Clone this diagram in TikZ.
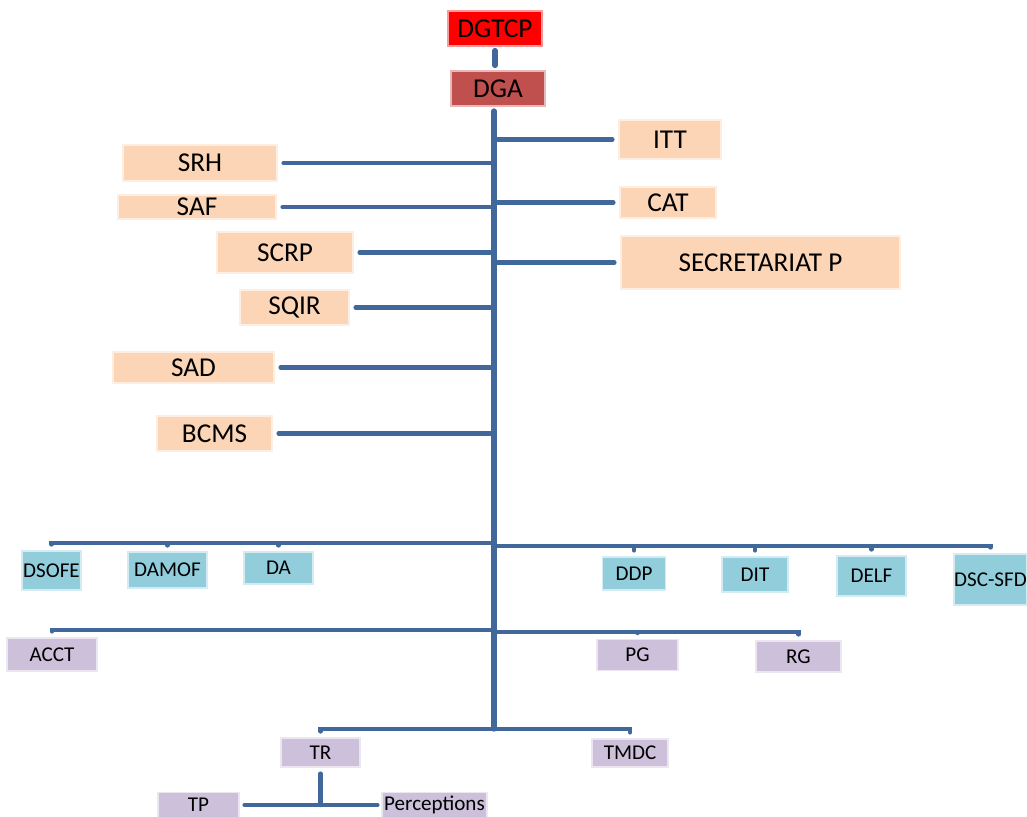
\documentclass[tikz,border=0pt]{standalone}
\usepackage{fontspec}
\setmainfont{Carlito}
\usepackage{tikz}
\definecolor{linkblue}{RGB}{65,104,154}
\definecolor{peach}{RGB}{251,213,181}
\definecolor{sky}{RGB}{146,205,220}
\definecolor{lilac}{RGB}{204,192,218}
\definecolor{brick}{RGB}{192,80,77}

\begin{document}
\begin{tikzpicture}[x=0.02cm,y=-0.02cm,line cap=round,
		unit/.style={rectangle,inner sep=0pt,fill=#1,draw=white!60!#1,line width=0.6pt,font=\fontsize{15.5}{18}\selectfont},
		office/.style={unit=#1,font=\fontsize{12}{14}\selectfont},
		boxsize/.style 2 args={minimum width=#1*0.02cm,minimum height=#2*0.02cm},
		trunk/.style={draw=linkblue,line width=3pt},
		branch/.style={draw=linkblue,line width=2.4pt,shorten >=0.12cm},
		elbow/.style={to path={-| (\tikztotarget)}}]
			\useasboundingbox (0,0) rectangle (1027,816);
			\node[unit=red,boxsize={94}{35}] (dgtcp) at (495,28.5)		{DGTCP};
			\node[unit=brick,boxsize={94}{35}] (dga) at (498,88.5)		{DGA};
			\node[unit=peach,boxsize={102}{39}] (itt) at (670,139.5)		{ITT};
			\node[unit=peach,boxsize={96}{31}] (cat) at (668,202.5)		{CAT};
			\node[unit=peach,boxsize={279}{53}] (secp) at (760.5,262.5)	{SECRETARIAT P};
			\node[unit=peach,boxsize={154}{36}] (srh) at (200,163)		{SRH};
			\node[unit=peach,boxsize={158}{24}] (saf) at (197,207)		{SAF};
			\node[unit=peach,boxsize={136}{41}] (scrp) at (285,252.5)	{SCRP};
			\node[unit=peach,boxsize={109}{35}] (sqir) at (294.5,307.5)	{SQIR};
			\node[unit=peach,boxsize={161}{31}] (sad) at (193.5,367.5)	{SAD};
			\node[unit=peach,boxsize={115}{35}] (bcms) at (214.5,433.5)	{BCMS};
			\node[office=sky,boxsize={59}{39}] (dsofe) at (51.5,570.5)	{DSOFE};
			\node[office=sky,boxsize={79}{36}] (damof) at (167.5,570)	{DAMOF};
			\node[office=sky,boxsize={69}{32}] (da) at (278.5,568)		{DA};
			\node[office=sky,boxsize={63}{33}] (ddp) at (634,573.5)		{DDP};
			\node[office=sky,boxsize={66}{35}] (dit) at (755,574.5)		{DIT};
			\node[office=sky,boxsize={69}{40}] (delf) at (871.5,576)		{DELF};
			\node[office=sky,boxsize={73}{51}] (dscsfd) at (990.5,579.5)	{DSC-SFD};
			\node[office=lilac,boxsize={90}{33}] (acct) at (52,654.5)		{ACCT};
			\node[office=lilac,boxsize={81}{31}] (pg) at (637.5,655)		{PG};
			\node[office=lilac,boxsize={85}{31}] (rg) at (798.5,656.5)		{RG};
			\node[office=lilac,boxsize={79}{29}] (tr) at (320.5,752.5)		{TR};
			\node[office=lilac,boxsize={76}{28}] (tmdc) at (630,753)		{TMDC};
			\node[office=lilac,boxsize={81}{25}] (tp) at (198.5,805)		{TP};
			\node[office=lilac,boxsize={105}{25}] (perc) at (434.5,805)	{Perceptions};
			\coordinate (top) at (494,106);
			\coordinate (b1) at (494,543);
			\coordinate (b2) at (494,546);
			\coordinate (p1) at (494,630);
			\coordinate (p2) at (494,632);
			\coordinate (foot) at (494,729);
			\path[trunk,shorten <=0.08cm,shorten >=0.1cm] (dgtcp.south) edge (dgtcp.south |- dga.north);
			\path[trunk,shorten <=0.1cm] (top) edge (foot);
			\path[branch] 	(top |- itt) edge (itt)
							(top |- cat) edge (cat)
							(top |- secp) edge (secp)
							(top |- srh) edge (srh)
							(top |- saf) edge (saf)
							(top |- scrp) edge (scrp)
							(top |- sqir) edge (sqir)
							(top |- sad) edge (sad)
							(top |- bcms) edge (bcms);
			\path[branch] 	(b1) edge[elbow] (dsofe)
								edge[elbow] (damof)
								edge[elbow] (da)
							(b2) edge[elbow] (ddp)
								edge[elbow] (dit)
								edge[elbow] (delf)
								edge[elbow] (dscsfd)
							(p1) edge[elbow] (acct)
							(p2) edge[elbow] (pg)
								edge[elbow] (rg)
							(foot) edge[elbow] (tr)
								edge[elbow] (tmdc);
			\path[branch,shorten >=0pt,shorten <=0.12cm] (tr) edge (tr |- tp);
			\path[branch,shorten <=0.1cm,shorten >=0.08cm] (tp) edge (perc);
\end{tikzpicture}
\end{document}
